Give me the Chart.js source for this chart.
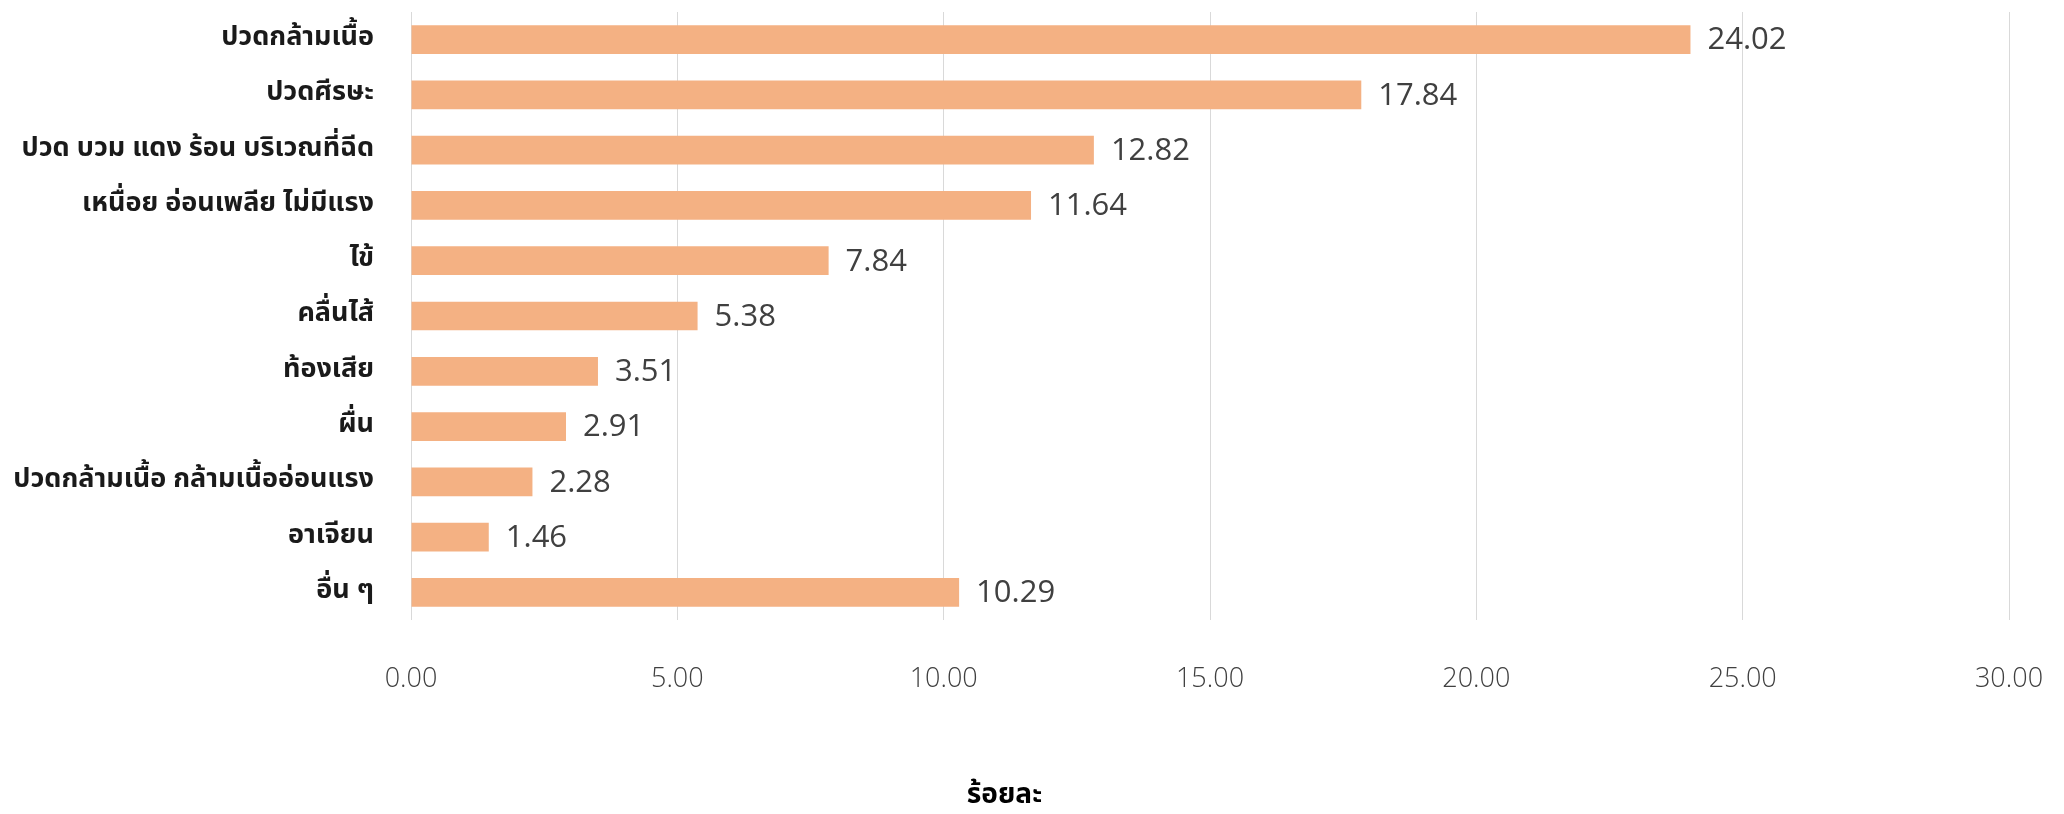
<!DOCTYPE html>
<html>
<head>
<meta charset="utf-8">
<script src="https://cdn.jsdelivr.net/npm/chart.js@4/dist/chart.umd.min.js"></script>
<style>
  html, body { margin: 0; padding: 0; background: #ffffff; }
  canvas { display: block; }
</style>
</head>
<body>
<canvas id="c" width="2064" height="814"></canvas>
<script>
const categories = [
  "ปวดกล้ามเนื้อ",
  "ปวดศีรษะ",
  "ปวด บวม แดง ร้อน บริเวณที่ฉีด",
  "เหนื่อย อ่อนเพลีย ไม่มีแรง",
  "ไข้",
  "คลื่นไส้",
  "ท้องเสีย",
  "ผื่น",
  "ปวดกล้ามเนื้อ กล้ามเนื้ออ่อนแรง",
  "อาเจียน",
  "อื่น ๆ"
];
const percentValues = [24.02, 17.84, 12.82, 11.64, 7.84, 5.38, 3.51, 2.91, 2.28, 1.46, 10.29];
const xTickValues = [0, 5, 10, 15, 20, 25, 30];
const axisTitle = "ร้อยละ";

const thaiFont = '"Noto Sans Thai", "Noto Sans", sans-serif';
const numFont = '"Open Sans", "Noto Sans", sans-serif';

const valueLabels = {
  id: 'valueLabels',
  afterDatasetsDraw(chart) {
    const ctx = chart.ctx;
    const meta = chart.getDatasetMeta(0);
    ctx.save();
    ctx.font = '31px ' + numFont;
    ctx.fillStyle = '#404040';
    ctx.textAlign = 'left';
    ctx.textBaseline = 'middle';
    meta.data.forEach((bar, i) => {
      const v = chart.data.datasets[0].data[i];
      ctx.fillText(v.toFixed(2), bar.x + 17, bar.y + 1);
    });
    ctx.restore();
  }
};

new Chart(document.getElementById('c'), {
  type: 'bar',
  data: {
    labels: categories,
    datasets: [{
      data: percentValues,
      backgroundColor: '#F4B183',
      borderWidth: 0,
      categoryPercentage: 1.0,
      barPercentage: 0.52
    }]
  },
  options: {
    indexAxis: 'y',
    responsive: false,
    animation: false,
    devicePixelRatio: 1,
    layout: { padding: { top: 12, right: 55, bottom: 0, left: 0 } },
    plugins: {
      legend: { display: false },
      tooltip: { enabled: false },
      title: {
        display: true,
        text: axisTitle,
        position: 'bottom',
        color: '#000000',
        font: { family: thaiFont, size: 28, weight: 'bold' },
        padding: { top: 42, bottom: 0 }
      }
    },
    scales: {
      x: {
        min: 0,
        max: 30,
        afterBuildTicks(scale) {
          scale.ticks = xTickValues.map(v => ({ value: v }));
        },
        afterFit(scale) { scale.paddingLeft = 0; scale.paddingRight = 0; },
        grid: { color: '#D9D9D9', lineWidth: 1, drawTicks: false },
        border: { display: false },
        ticks: {
          padding: 43,
          color: '#404040',
          font: { family: numFont, size: 27, weight: 300 },
          callback: (v) => Number(v).toFixed(2),
          maxRotation: 0
        }
      },
      y: {
        grid: { display: false, drawTicks: false },
        border: { display: false },
        afterFit(scale) {
          scale.width = 411;
          scale.paddingTop = 0;
          scale.paddingBottom = 0;
        },
        ticks: {
          padding: 37,
          color: '#1a1a1a',
          font: { family: thaiFont, size: 27, weight: 'bold' }
        }
      }
    }
  },
  plugins: [valueLabels]
});
</script>
</body>
</html>
